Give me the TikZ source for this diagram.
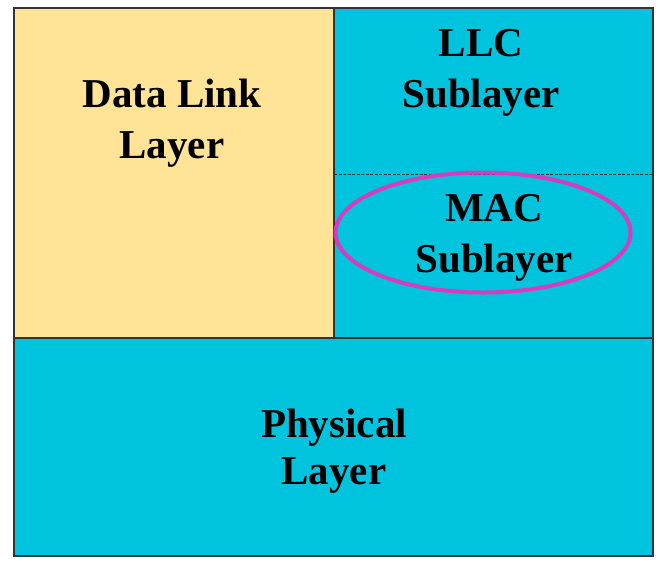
\documentclass[tikz,border=0pt]{standalone}
\usepackage{fontspec}
\setmainfont{Liberation Serif}
\usetikzlibrary{shapes.geometric}
\definecolor{cyanfill}{HTML}{00C3DE}
\definecolor{yellowfill}{HTML}{FFE396}
\definecolor{macring}{HTML}{D93BBF}
\definecolor{edge}{HTML}{333333}
\begin{document}
\begin{tikzpicture}[x=1pt,y=-1pt,
  box/.style={draw=edge,line width=1.5pt},
  lbl/.style={inner sep=0pt,align=center,font=\bfseries\fontsize{41}{51}\selectfont,anchor=base}]
\useasboundingbox (0,0) rectangle (663,566);
\fill[white] (0,0) rectangle (663,566);
\fill[yellowfill] (14,8) rectangle (334,338);
\fill[cyanfill] (334,8) rectangle (653,338);
\fill[cyanfill] (14,338) rectangle (653,556);
\coordinate (dl) at (334,174);
\coordinate (dr) at (653,174);
\draw[edge,line width=0.8pt,dash pattern=on 3pt off 1.5pt] (dl) -- (dr);
\draw[box] (334,8) -- (334,338);
\draw[box] (14,338) -- (653,338);
\draw[box] (14,8) rectangle (653,556);
\node[draw=macring,line width=4pt,ellipse,minimum width=295pt,minimum height=120pt,inner sep=0pt] (mac) at (483,232.5) {};
\node[lbl] (dll) at (172,158) {Data Link\\Layer};
\node[lbl] (llc) at (481,107) {LLC\\Sublayer};
\node[lbl] (macl) at (494,272) {MAC\\Sublayer};
\node[lbl,font=\bfseries\fontsize{41}{47}\selectfont] (phy) at (334,484) {Physical\\Layer};
\end{tikzpicture}
\end{document}
